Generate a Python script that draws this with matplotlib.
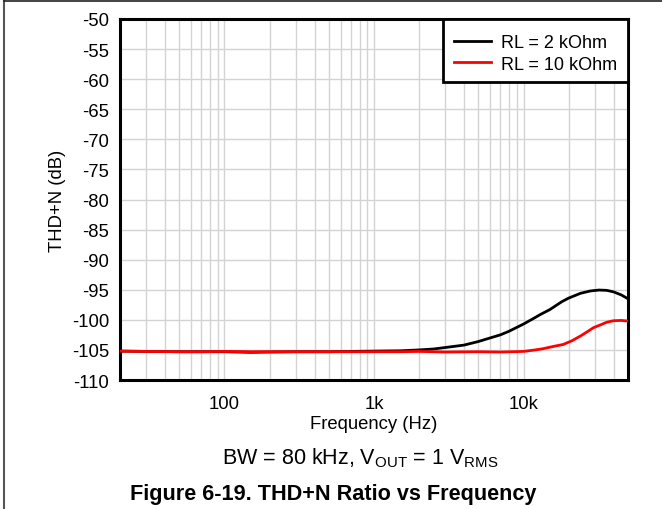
import matplotlib
matplotlib.use("Agg")
import matplotlib.pyplot as plt
from matplotlib.lines import Line2D
from matplotlib.patches import Rectangle
from matplotlib.ticker import FixedLocator, LogLocator, NullFormatter

plt.rcParams['font.family'] = ['Liberation Sans', 'DejaVu Sans']
plt.rcParams['mathtext.fontset'] = 'custom'
plt.rcParams['mathtext.rm'] = 'Liberation Sans'
plt.rcParams['mathtext.it'] = 'Liberation Sans'

freq_2k = [20, 30, 50, 70, 100, 150, 200, 300, 500, 700, 1000, 1500, 2000, 2500, 3000, 4000,
           5000, 6000, 7000, 8000, 10000, 12000, 13000, 15000, 18000, 20000, 24000, 28000,
           32000, 36000, 40000, 45000, 50000]
thd_2k = [-105.2, -105.25, -105.3, -105.3, -105.3, -105.4, -105.35, -105.3, -105.3, -105.25,
          -105.2, -105.15, -105.0, -104.85, -104.6, -104.2, -103.6, -103.0, -102.5, -101.9,
          -100.7, -99.6, -99.1, -98.3, -97.0, -96.4, -95.6, -95.2, -95.05, -95.1, -95.35,
          -95.85, -96.5]

freq_10k = [20, 30, 50, 70, 100, 150, 200, 300, 500, 700, 1000, 1500, 2000, 3000, 5000, 7000,
            10000, 12000, 13500, 16000, 18400, 21000, 24000, 27000, 29400, 33000, 36000,
            40000, 45000, 50000]
thd_10k = [-105.2, -105.25, -105.3, -105.3, -105.25, -105.3, -105.3, -105.3, -105.3, -105.3,
           -105.3, -105.3, -105.25, -105.35, -105.3, -105.35, -105.25, -105.0, -104.8, -104.4,
           -104.1, -103.5, -102.7, -101.9, -101.3, -100.8, -100.4, -100.15, -100.1, -100.2]

yticks = list(range(-110, -49, 5))
xticks = [100, 1000, 10000]
xticklabels = ['100', '1k', '10k']

fig = plt.figure(figsize=(6.62, 5.10), dpi=100)
ax = fig.add_axes([120/662, 1-381/510, 508/662, 361/510])

ax.plot(freq_2k, thd_2k, color='black', lw=2, label='RL = 2 kOhm', zorder=3)
ax.plot(freq_10k, thd_10k, color='#ff0000', lw=2, label='RL = 10 kOhm', zorder=3)

ax.set_xscale('log')
ax.set_xlim(20, 50000)
ax.set_ylim(-110, -50)
ax.set_yticks(yticks)
ax.set_yticklabels([str(v) for v in yticks])
ax.xaxis.set_major_locator(FixedLocator(xticks))
ax.set_xticklabels(xticklabels)
ax.xaxis.set_minor_locator(LogLocator(base=10, subs=range(2, 10)))
ax.xaxis.set_minor_formatter(NullFormatter())
ax.grid(True, which='both', axis='x', color='#d3d3d3', lw=1, zorder=0)
ax.grid(True, which='major', axis='y', color='#d3d3d3', lw=1, zorder=0)
ax.tick_params(which='both', length=0, labelsize=13.3)
ax.tick_params(axis='y', pad=8)
ax.tick_params(axis='x', pad=11)
for s in ax.spines.values():
    s.set_linewidth(2.2)
    s.set_color('black')

ax.set_xlabel('Frequency (Hz)', fontsize=13.3, labelpad=2)
ax.set_ylabel('THD+N (dB)', fontsize=13.3, labelpad=4)

# legend frame
ax.add_patch(Rectangle((0.636, 0.8255), 0.364, 0.1745, transform=ax.transAxes,
                       facecolor='white', edgecolor='black', lw=2, zorder=5, clip_on=False))
leg = ax.legend(loc='center', bbox_to_anchor=(0.818, 0.905), fontsize=13, frameon=False,
                borderaxespad=0, handlelength=2.0, handletextpad=0.55,
                labelspacing=0.25, borderpad=0)
leg.set_zorder(6)

fig.text(360/662, 1-458/510, r'BW = 80 kHz, V$_{\mathrm{OUT}}$ = 1 V$_{\mathrm{RMS}}$',
         ha='center', va='center', fontsize=15.5)
fig.text(333/662, 1-495/510, 'Figure 6-19. THD+N Ratio vs Frequency',
         ha='center', va='center', fontsize=15.6, fontweight='bold')

fig.add_artist(Line2D([3.5/662, 3.5/662], [0, 1-2/510], transform=fig.transFigure,
                      color='#555555', lw=1.5))
fig.add_artist(Line2D([3.5/662, 1], [1-2/510, 1-2/510], transform=fig.transFigure,
                      color='#222222', lw=1.2))

fig.savefig('out.png', dpi=100)
